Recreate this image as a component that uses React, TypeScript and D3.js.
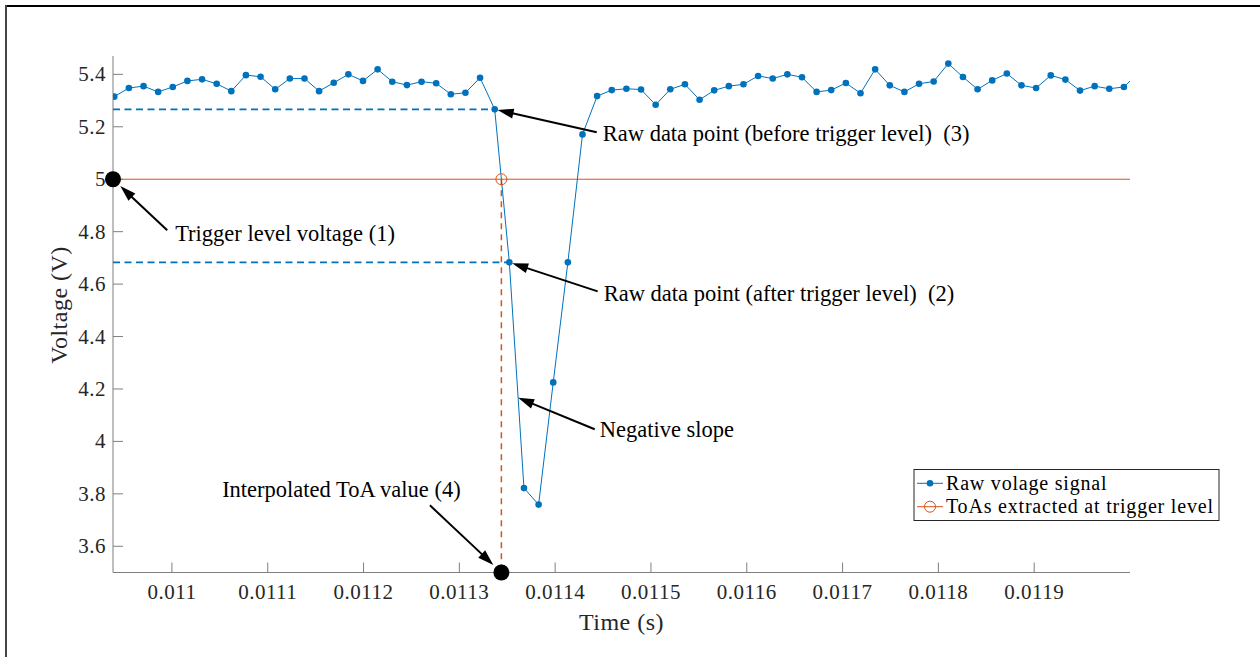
import React from 'react';
import * as d3 from 'd3';

// ---- Signal: uniformly sampled raw voltage ----
const SAMPLE_START = 0.0109398; // s, time of first sample
const SAMPLE_PERIOD = 1.5273e-5; // s
const voltages: number[] = [
  5.315, 5.348, 5.355, 5.333, 5.352, 5.375, 5.381, 5.364, 5.336, 5.397,
  5.391, 5.343, 5.384, 5.384, 5.336, 5.368, 5.400, 5.375, 5.419, 5.372,
  5.359, 5.372, 5.366, 5.324, 5.330, 5.387, 5.2665, 4.683, 3.822, 3.759,
  4.225, 4.683, 5.171, 5.317, 5.340, 5.345, 5.342, 5.284, 5.343, 5.362,
  5.303, 5.339, 5.355, 5.362, 5.394, 5.384, 5.400, 5.389, 5.333, 5.340,
  5.367, 5.328, 5.419, 5.358, 5.333, 5.364, 5.373, 5.441, 5.390, 5.343,
  5.377, 5.403, 5.358, 5.348, 5.396, 5.380, 5.338, 5.355, 5.345, 5.352,
  5.405,
];
const TRIGGER_LEVEL = 5.0;

// ---- Axes ----
const X_DOMAIN = [0.0109385, 0.012];
const Y_DOMAIN = [3.5, 5.47];
const xTicks = [0.011, 0.0111, 0.0112, 0.0113, 0.0114, 0.0115, 0.0116, 0.0117, 0.0118, 0.0119];
const xTickLabels = ['0.011', '0.0111', '0.0112', '0.0113', '0.0114', '0.0115', '0.0116', '0.0117', '0.0118', '0.0119'];
const yTicks = [3.6, 3.8, 4, 4.2, 4.4, 4.6, 4.8, 5, 5.2, 5.4];
const yTickLabels = ['3.6', '3.8', '4', '4.2', '4.4', '4.6', '4.8', '5', '5.2', '5.4'];

const legendLabels = ['Raw volage signal', 'ToAs extracted at trigger level'];

const W = 1260;
const H = 657;
const PLOT = { left: 113, right: 1130, top: 56, bottom: 572.5 };
const BLUE = '#0072BD';
const ORANGE = '#D95319';
const AXIS = '#7f7f7f';
const INK = '#262626';
const SERIF = '"Liberation Serif", "Times New Roman", serif';

type Pt = { t: number; v: number };

export default function App() {
  const x = d3.scaleLinear().domain(X_DOMAIN).range([PLOT.left, PLOT.right]);
  const y = d3.scaleLinear().domain(Y_DOMAIN).range([PLOT.bottom, PLOT.top]);

  const pts: Pt[] = voltages.map((v, i) => ({ t: SAMPLE_START + i * SAMPLE_PERIOD, v }));
  const line = d3.line<Pt>().x((d) => x(d.t)).y((d) => y(d.v));

  // first falling crossing of the trigger level
  let k = 0;
  for (let i = 0; i < pts.length - 1; i++) {
    if (pts[i].v >= TRIGGER_LEVEL && pts[i + 1].v < TRIGGER_LEVEL) { k = i; break; }
  }
  const before = pts[k];
  const after = pts[k + 1];
  const frac = (before.v - TRIGGER_LEVEL) / (before.v - after.v);
  const toa = before.t + frac * (after.t - before.t);

  const slopeFrac = 0.6;
  const slopePt: Pt = {
    t: after.t + slopeFrac * (pts[k + 2].t - after.t),
    v: after.v + slopeFrac * (pts[k + 2].v - after.v),
  };

  // annotations: text anchor, arrow tail, arrow target (data units) and gap (px)
  const annotations = [
    { text: 'Trigger level voltage (1)', at: { t: 0.0110034, v: 4.763 }, tail: { t: 0.0109951, v: 4.805 }, target: { t: X_DOMAIN[0], v: TRIGGER_LEVEL }, gap: 10 },
    { text: 'Raw data point (after trigger level)  (2)', at: { t: 0.0114507, v: 4.5343 }, tail: { t: 0.0114444, v: 4.5724 }, target: after, gap: 3 },
    { text: 'Raw data point (before trigger level)  (3)', at: { t: 0.0114497, v: 5.1456 }, tail: { t: 0.0114434, v: 5.1788 }, target: before, gap: 3 },
    { text: 'Negative slope', at: { t: 0.0114465, v: 4.0156 }, tail: { t: 0.0114413, v: 4.0462 }, target: slopePt, gap: 0 },
    { text: 'Interpolated ToA value (4)', at: { t: 0.0110524, v: 3.7867 }, tail: { t: 0.0112693, v: 3.7562 }, target: { t: toa, v: Y_DOMAIN[0] }, gap: 11 },
  ];

  const arrow = (tail: Pt, target: Pt, gap: number, key: number) => {
    const x0 = x(tail.t), y0 = y(tail.v);
    const x1 = x(target.t), y1 = y(target.v);
    const dx = x1 - x0, dy = y1 - y0;
    const len = Math.hypot(dx, dy);
    const ux = dx / len, uy = dy / len;
    const tipX = x1 - ux * gap, tipY = y1 - uy * gap;
    const headLen = 16, headHalf = 5;
    const bx = tipX - ux * headLen, by = tipY - uy * headLen;
    const px = -uy, py = ux;
    return (
      <g key={key}>
        <line x1={x0} y1={y0} x2={bx + ux * 2} y2={by + uy * 2} stroke="#000" strokeWidth={2} />
        <polygon
          points={`${tipX},${tipY} ${bx + px * headHalf},${by + py * headHalf} ${bx - px * headHalf},${by - py * headHalf}`}
          fill="#000"
        />
      </g>
    );
  };

  return (
    <svg width={W} height={H} style={{ position: 'absolute', left: 0, top: 0, background: '#fff' }}>
      <defs>
        <clipPath id="plot-clip">
          <rect x={PLOT.left} y={PLOT.top - 10} width={PLOT.right - PLOT.left} height={PLOT.bottom - PLOT.top + 20} />
        </clipPath>
      </defs>

      {/* figure frame */}
      <line x1={5} y1={6} x2={W} y2={6} stroke="#000" strokeWidth={2} />
      <line x1={6} y1={5} x2={6} y2={H} stroke="#444" strokeWidth={2} />

      {/* axes */}
      <line x1={PLOT.left} y1={PLOT.top} x2={PLOT.left} y2={PLOT.bottom} stroke={AXIS} strokeWidth={1} />
      <line x1={PLOT.left} y1={PLOT.bottom} x2={PLOT.right} y2={PLOT.bottom} stroke={AXIS} strokeWidth={1} />
      {xTicks.map((t, i) => (
        <g key={`xt${i}`}>
          <line x1={x(t)} x2={x(t)} y1={PLOT.bottom} y2={PLOT.bottom - 10} stroke={AXIS} strokeWidth={1} />
          <text x={x(t)} y={599} textAnchor="middle" fontFamily={SERIF} fontSize={21} letterSpacing={0.5} fill={INK}>
            {xTickLabels[i]}
          </text>
        </g>
      ))}
      {yTicks.map((v, i) => (
        <g key={`yt${i}`}>
          <line x1={PLOT.left} x2={PLOT.left + 10} y1={y(v)} y2={y(v)} stroke={AXIS} strokeWidth={1} />
          <text x={106} y={y(v) + 7} textAnchor="end" fontFamily={SERIF} fontSize={21} letterSpacing={0.5} fill={INK}>
            {yTickLabels[i]}
          </text>
        </g>
      ))}
      <text x={(PLOT.left + PLOT.right) / 2} y={630} textAnchor="middle" fontFamily={SERIF} fontSize={24} letterSpacing={0.5} fill={INK}>
        Time (s)
      </text>
      <text
        transform={`translate(67,305) rotate(-90)`}
        textAnchor="middle"
        fontFamily={SERIF}
        fontSize={24}
        letterSpacing={0.5}
        fill={INK}
      >
        Voltage (V)
      </text>

      {/* trigger level */}
      <line x1={PLOT.left} x2={PLOT.right} y1={y(TRIGGER_LEVEL)} y2={y(TRIGGER_LEVEL)} stroke={ORANGE} strokeWidth={1} />

      {/* reference levels of the two samples around the crossing */}
      <line x1={PLOT.left} x2={x(before.t)} y1={y(before.v)} y2={y(before.v)} stroke={BLUE} strokeWidth={1.6} strokeDasharray="7,4.5" />
      <line x1={PLOT.left} x2={x(after.t)} y1={y(after.v)} y2={y(after.v)} stroke={BLUE} strokeWidth={1.6} strokeDasharray="7,4.5" />

      {/* ToA drop line */}
      <line x1={x(toa)} x2={x(toa)} y1={y(TRIGGER_LEVEL)} y2={PLOT.bottom} stroke={ORANGE} strokeWidth={1.5} strokeDasharray="6,5" />

      {/* raw signal */}
      <g clipPath="url(#plot-clip)">
        <path d={line(pts) ?? ''} fill="none" stroke={BLUE} strokeWidth={1} />
        {pts.map((p, i) =>
          x(p.t) <= PLOT.right ? <circle key={`p${i}`} cx={x(p.t)} cy={y(p.v)} r={3.3} fill={BLUE} /> : null
        )}
      </g>

      {/* extracted ToA */}
      <circle cx={x(toa)} cy={y(TRIGGER_LEVEL)} r={5.5} fill="none" stroke={ORANGE} strokeWidth={1} />

      {/* highlighted points */}
      <circle cx={x(X_DOMAIN[0])} cy={y(TRIGGER_LEVEL)} r={8} fill="#000" />
      <circle cx={x(toa)} cy={y(Y_DOMAIN[0])} r={8} fill="#000" />

      {/* annotations */}
      {annotations.map((a, i) => arrow(a.tail, a.target, a.gap, i))}
      {annotations.map((a, i) => (
        <text key={`at${i}`} x={x(a.at.t)} y={y(a.at.v)} fontFamily={SERIF} fontSize={22.5} fill="#000" style={{ whiteSpace: 'pre' }}>
          {a.text}
        </text>
      ))}

      {/* legend */}
      <g>
        <rect x={914} y={469.5} width={305} height={51} fill="#fff" stroke={INK} strokeWidth={1} />
        <line x1={917} x2={943} y1={483.3} y2={483.3} stroke={BLUE} strokeWidth={1} />
        <circle cx={930} cy={483.3} r={3.3} fill={BLUE} />
        <text x={946} y={490} fontFamily={SERIF} fontSize={20} letterSpacing={0.8} fill="#000">{legendLabels[0]}</text>
        <line x1={917} x2={943} y1={506.7} y2={506.7} stroke={ORANGE} strokeWidth={1} />
        <circle cx={930} cy={506.7} r={5.5} fill="none" stroke={ORANGE} strokeWidth={1} />
        <text x={946} y={513.4} fontFamily={SERIF} fontSize={20} letterSpacing={0.8} fill="#000">{legendLabels[1]}</text>
      </g>
    </svg>
  );
}
